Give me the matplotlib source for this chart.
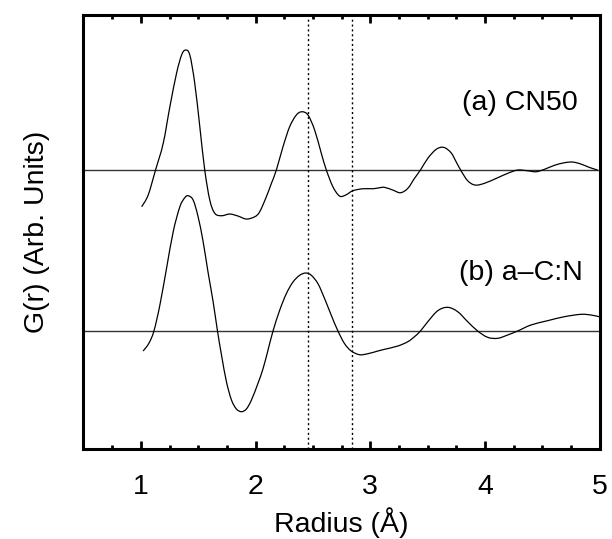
import numpy as np
import matplotlib
matplotlib.use("Agg")
import matplotlib.pyplot as plt
from matplotlib.path import Path
from matplotlib.patches import PathPatch
from matplotlib.ticker import MultipleLocator, NullLocator

plt.rcParams['font.family'] = ['Liberation Sans', 'DejaVu Sans']

# G(r) curves, read point by point (radius in Angstrom, G in arbitrary units)
r_cn50 = [1.007, 1.064, 1.128, 1.195, 1.253, 1.311, 1.355, 1.389, 1.427, 1.470,
          1.514, 1.557, 1.601, 1.645, 1.703, 1.775, 1.847, 1.920, 1.993, 2.036,
          2.094, 2.138, 2.181, 2.239, 2.297, 2.355, 2.404, 2.457, 2.515, 2.573,
          2.617, 2.674, 2.732, 2.785, 2.848, 2.935, 3.022, 3.080, 3.124, 3.196,
          3.263, 3.327, 3.385, 3.437, 3.501, 3.574, 3.640, 3.704, 3.748, 3.791,
          3.849, 3.913, 3.994, 4.110, 4.197, 4.284, 4.371, 4.444, 4.517, 4.604,
          4.691, 4.763, 4.836, 4.908, 4.981]
g_cn50 = [-0.367, -0.25, 0.0, 0.267, 0.633, 0.967, 1.15, 1.20, 1.15, 0.867,
          0.433, 0.0, -0.30, -0.433, -0.457, -0.44, -0.46, -0.49, -0.467, -0.417,
          -0.267, -0.133, 0.0, 0.233, 0.433, 0.55, 0.583, 0.55, 0.40, 0.167,
          0.0, -0.167, -0.26, -0.25, -0.207, -0.187, -0.187, -0.177, -0.173, -0.20,
          -0.227, -0.183, -0.083, 0.0, 0.117, 0.207, 0.227, 0.173, 0.083, -0.007,
          -0.107, -0.15, -0.133, -0.077, -0.033, 0.0, -0.007, -0.017, 0.007, 0.047,
          0.073, 0.08, 0.06, 0.027, 0.0]

r_acn = [1.020, 1.070, 1.114, 1.166, 1.224, 1.282, 1.340, 1.383, 1.412, 1.456,
         1.499, 1.543, 1.585, 1.630, 1.668, 1.703, 1.746, 1.790, 1.833, 1.877,
         1.920, 1.964, 2.021, 2.065, 2.108, 2.152, 2.210, 2.268, 2.326, 2.384,
         2.437, 2.486, 2.544, 2.602, 2.660, 2.718, 2.776, 2.834, 2.906, 2.979,
         3.066, 3.124, 3.240, 3.327, 3.385, 3.437, 3.501, 3.588, 3.675, 3.762,
         3.849, 3.936, 4.023, 4.110, 4.197, 4.284, 4.400, 4.545, 4.691, 4.836,
         4.923, 4.996]
g_acn = [-0.20, -0.123, 0.0, 0.26, 0.627, 0.993, 1.243, 1.333, 1.353, 1.31,
         1.143, 0.893, 0.593, 0.293, 0.0, -0.24, -0.507, -0.69, -0.78, -0.807,
         -0.78, -0.69, -0.523, -0.377, -0.193, 0.0, 0.207, 0.373, 0.49, 0.557,
         0.58, 0.557, 0.473, 0.323, 0.157, 0.0, -0.127, -0.20, -0.237, -0.227,
         -0.20, -0.183, -0.15, -0.107, -0.057, 0.0, 0.093, 0.203, 0.237, 0.193,
         0.093, 0.0, -0.063, -0.073, -0.04, 0.0, 0.06, 0.103, 0.143, 0.167,
         0.16, 0.143]

offsets = [0.0, -1.61]
labels = ["(a) CN50", "(b) a\u2013C:N"]
ref_lines = [2.46, 2.84]


def smooth_path(x, y):
    # Catmull-Rom through the points, written as cubic Bezier segments
    x = np.asarray(x, float)
    y = np.asarray(y, float)
    pts = np.column_stack([x, y])
    ext = np.vstack([pts[0], pts, pts[-1]])
    verts = [pts[0]]
    codes = [Path.MOVETO]
    for i in range(len(pts) - 1):
        p0, p1, p2, p3 = ext[i], ext[i + 1], ext[i + 2], ext[i + 3]
        verts += [p1 + (p2 - p0) / 6.0, p2 - (p3 - p1) / 6.0, p2]
        codes += [Path.CURVE4] * 3
    return Path(verts, codes)


fig = plt.figure(figsize=(6.12, 5.39), dpi=100)
ax = fig.add_axes([0.1364, 0.167, 0.8436, 0.805])

for off in offsets:
    ax.axhline(off, color='#333333', lw=1.0, zorder=1)
for x in ref_lines:
    ax.axvline(x, color='black', lw=1.0, ls=(0, (1.5, 2)), zorder=1)

for r, g, off in [(r_cn50, g_cn50, offsets[0]), (r_acn, g_acn, offsets[1])]:
    ax.add_patch(PathPatch(smooth_path(r, np.array(g) + off), fill=False,
                           edgecolor='black', lw=0.9, zorder=2))

ax.text(4.81, 0.67, labels[0], ha='right', va='center', fontsize=20.5)
ax.text(4.85, -1.03, labels[1], ha='right', va='center', fontsize=20.5)

ax.set_xlim(0.5, 5.0)
ax.set_ylim(-2.79, 1.55)
ax.xaxis.set_major_locator(MultipleLocator(1))
ax.xaxis.set_minor_locator(MultipleLocator(0.25))
ax.yaxis.set_major_locator(NullLocator())
ax.tick_params(axis='x', which='both', direction='in', top=True, width=2,
               labelsize=20.5, pad=18)
ax.tick_params(axis='x', which='major', length=6)
ax.tick_params(axis='x', which='minor', length=3)
for sp in ax.spines.values():
    sp.set_linewidth(2.2)

ax.set_xlabel("Radius (\u00c5)", fontsize=20.5, labelpad=5)
ax.set_ylabel("G(r) (Arb. Units)", fontsize=20.5, labelpad=24)

fig.savefig("out.png", dpi=100)
